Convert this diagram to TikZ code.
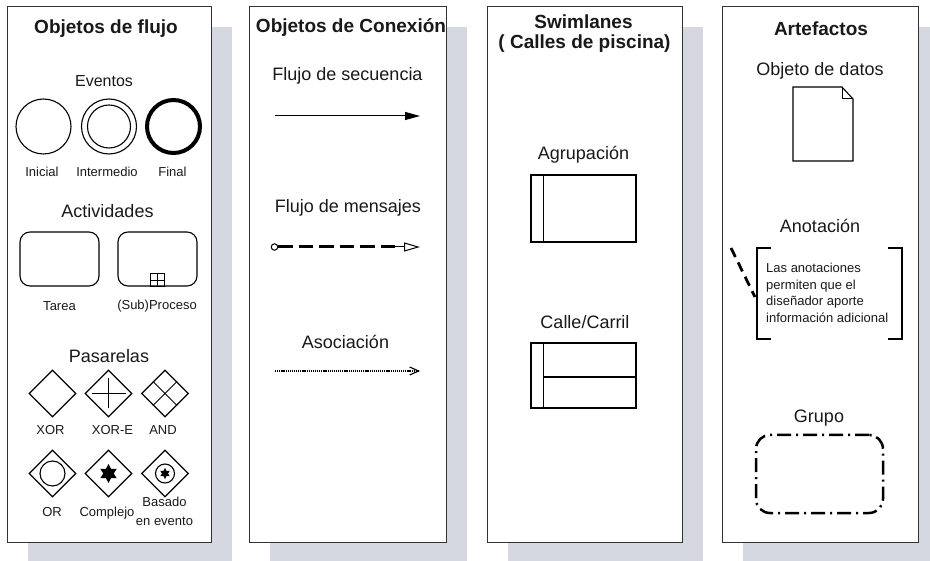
\documentclass[tikz,border=0pt]{standalone}
\usepackage{fontspec}
\setmainfont{Liberation Sans}
\usetikzlibrary{arrows.meta,shapes.geometric,calc}
\definecolor{sombragris}{RGB}{213,216,225}

\begin{document}
\begin{tikzpicture}[x=1pt,y=-1pt,
  sombra/.style={fill=sombragris,draw=none},
  panel/.style={draw=black!80,fill=white,line width=.9pt},
  titulo/.style={font=\fontsize{19}{22}\selectfont\bfseries,text=black!90,inner sep=0},
  etiq/.style={font=\fontsize{18}{21}\selectfont,text=black!90,inner sep=0},
  mini/.style={font=\fontsize{13}{16.5}\selectfont,text=black!90,inner sep=0},
  evento/.style={circle,draw,line width=1.1pt,minimum size=55pt,inner sep=0},
  tarea/.style={draw,rounded corners=10pt,line width=1.1pt,minimum width=79pt,minimum height=54pt},
  pasarela/.style={diamond,draw,line width=1.1pt,minimum width=47pt,minimum height=47pt,inner sep=0},
  estrella/.style={star,star points=6,star point ratio=1.8,fill=black,inner sep=0},
  calle/.style={draw,line width=1.1pt,minimum width=105pt,minimum height=66pt,inner sep=0}]
\useasboundingbox (0,0) rectangle (930,561);

\fill[sombra] (28,27) rectangle (232,563);
\fill[sombra] (270,27) rectangle (467,563);
\fill[sombra] (508,27) rectangle (703,563);
\fill[sombra] (743,27) rectangle (939,563);
\draw[panel] (7,6) rectangle (211,542);
\draw[panel] (249,6) rectangle (446,542);
\draw[panel] (487,6) rectangle (682,542);
\draw[panel] (722,6) rectangle (918,542);

\node[titulo] (tflujo) at (106,29) {Objetos de flujo};
\node[etiq,font=\fontsize{16}{19}\selectfont] (eventos) at (104,81) {Eventos};
\node[evento] (inicial) at (43.5,126.5) {};
\node[evento] (intermedio) at (109,126.5) {};
\draw[line width=1.1pt] (intermedio.center) circle[radius=21.5];
\node[evento,line width=4pt,minimum size=53pt] (final) at (173.5,126.5) {};
\node[mini] (linicial) at (42,171.5) {Inicial};
\node[mini] (lintermedio) at (107,171.5) {Intermedio};
\node[mini] (lfinal) at (172.5,171.5) {Final};

\node[etiq] (actividades) at (107.5,211) {Actividades};
\node[tarea] (tarea) at (59.5,259) {};
\node[tarea] (subproc) at (157.5,259) {};
\draw[line width=.8pt] ($(subproc.south)+(-7,-13)$) rectangle ($(subproc.south)+(7,0)$);
\draw[line width=.8pt] ($(subproc.south)+(0,-13)$) -- (subproc.south);
\draw[line width=.8pt] ($(subproc.south)+(-7,-6.5)$) -- ($(subproc.south)+(7,-6.5)$);
\node[mini] (ltarea) at (59.5,306) {Tarea};
\node[mini] (lsubproc) at (157,306) {(Sub)Proceso};

\node[etiq] (pasarelas) at (109,356.5) {Pasarelas};
\node[pasarela] (xor) at (52.5,393.5) {};
\node[pasarela] (xore) at (108.5,393.5) {};
\node[pasarela] (and) at (165,393.5) {};
\draw[line width=1pt] ($(xore.center)+(0,-15)$) -- ($(xore.center)+(0,15)$);
\draw[line width=1pt] ($(xore.center)+(-17,0)$) -- ($(xore.center)+(17,0)$);
\draw[line width=1pt] ($(and.north)!.5!(and.west)$) -- ($(and.south)!.5!(and.east)$);
\draw[line width=1pt] ($(and.north)!.5!(and.east)$) -- ($(and.south)!.5!(and.west)$);
\node[mini] (lxor) at (50.5,430.5) {XOR};
\node[mini] (lxore) at (112.5,430.5) {XOR-E};
\node[mini] (land) at (163,430.5) {AND};

\node[pasarela] (or) at (52.5,473.5) {};
\node[pasarela] (complejo) at (108.5,473.5) {};
\node[pasarela] (basado) at (165,473.5) {};
\draw[line width=1.1pt] (or.center) circle[radius=12.5];
\node[estrella,minimum size=19pt] (scomplejo) at (complejo.center) {};
\draw[line width=1.1pt] (basado.center) circle[radius=9.5];
\node[estrella,minimum size=11pt] (sbasado) at (basado.center) {};
\node[mini] (lor) at (52,512) {OR};
\node[mini] (lcomplejo) at (107,513.5) {Complejo};
\node[mini] (lbasado) at (164.5,502) {Basado};
\node[mini] (lenevento) at (164.5,521) {en evento};

\node[titulo] (tconexion) at (351,28) {Objetos de Conexión};
\node[etiq] (lsecuencia) at (347.5,75.5) {Flujo de secuencia};
\coordinate (secini) at (275,116);
\coordinate (secfin) at (420,116);
\draw[line width=1pt,-{Triangle[length=15pt,width=8pt]}] (secini) -- (secfin);

\node[etiq] (lmensajes) at (348,207.5) {Flujo de mensajes};
\node[circle,draw,line width=1pt,minimum size=6.5pt,inner sep=0] (msgini) at (274.5,247) {};
\coordinate (msgmed) at (395,247);
\coordinate (msgfin) at (420,247);
\draw[line width=3pt,dash pattern=on 14.5pt off 6pt] (msgini.east) -- (msgmed);
\draw[line width=1pt,-{Triangle[open,length=16pt,width=9pt]}] (msgmed) -- (msgfin);

\node[etiq] (lasociacion) at (345.5,341.5) {Asociación};
\coordinate (asoini) at (275,371);
\coordinate (asofin) at (420,371);
\draw[line width=2pt,dash pattern=on 1.2pt off .9pt,-{Straight Barb[length=9pt,width=8pt,line width=1.1pt]}] (asoini) -- (asofin);

\node[titulo] (tswim) at (583.5,22) {Swimlanes};
\node[titulo] (tcalles) at (584.5,44) {( Calles de piscina)};
\node[etiq] (lagrupacion) at (583.5,155) {Agrupación};
\node[calle,minimum height=67pt] (piscina) at (583.5,208.5) {};
\draw[line width=1.1pt] ($(piscina.north west)+(13,0)$) -- ($(piscina.south west)+(13,0)$);
\node[etiq] (lcarril) at (585,322.5) {Calle/Carril};
\node[calle,minimum height=65pt] (carril) at (583.5,375.5) {};
\draw[line width=1.1pt] ($(carril.north west)+(13,0)$) -- ($(carril.south west)+(13,0)$);
\draw[line width=1.1pt] ($(carril.west)+(13,1.5)$) -- ($(carril.east)+(0,1.5)$);

\node[titulo] (tartefactos) at (821,28.5) {Artefactos};
\node[etiq] (ldatos) at (820,70.5) {Objeto de datos};
\draw[line width=1.1pt] (793,87) -- (842,87) -- (853,99) -- (853,161) -- (793,161) -- cycle;
\draw[line width=1pt] (842,87) -- (842,99) -- (853,99);

\node[etiq] (lanotacion) at (820,225.5) {Anotación};
\draw[line width=1.3pt] (771,248) -- (757,248) -- (757,339) -- (771,339);
\draw[line width=1.3pt] (888,248) -- (902,248) -- (902,339) -- (888,339);
\node[mini,align=left,anchor=north west] (nota) at (766,263) {Las anotaciones\\permiten que el\\diseñador aporte\\información adicional};
\coordinate (notaini) at (731,248);
\coordinate (notafin) at (755,297);
\draw[line width=2.8pt,dash pattern=on 10pt off 6pt] (notaini) -- (notafin);

\node[etiq] (lgrupo) at (819,418) {Grupo};
\node[draw,line width=2.5pt,rounded corners=14pt,dash pattern=on 14pt off 5pt on 2pt off 5pt,minimum width=127pt,minimum height=78pt] (grupo) at (819.5,474) {};
\end{tikzpicture}
\end{document}
